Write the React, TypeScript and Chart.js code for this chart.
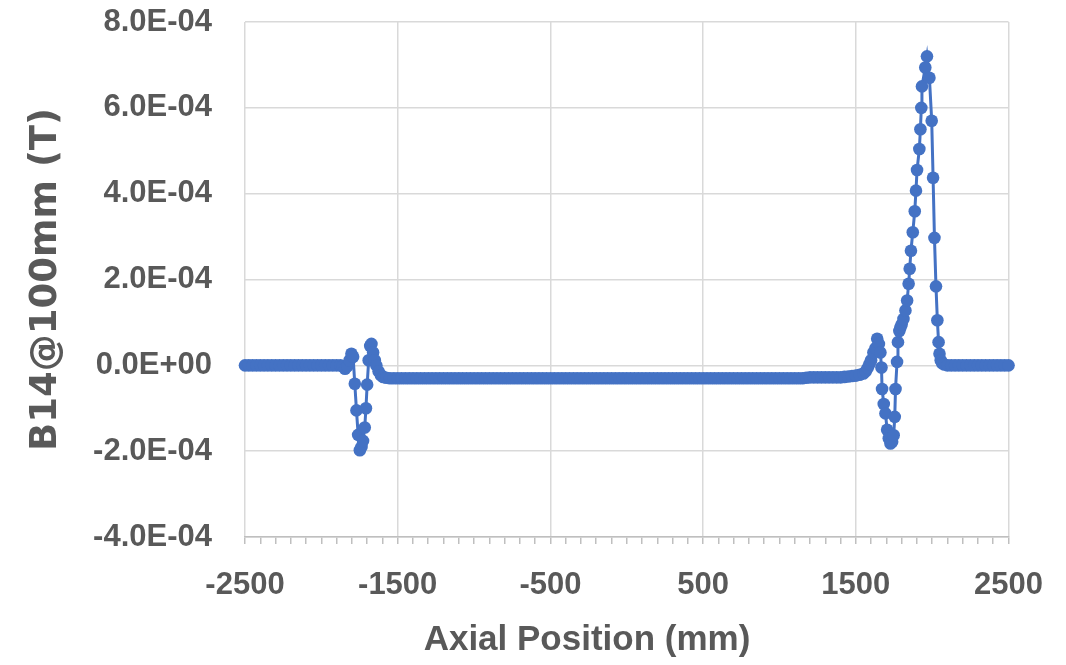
import React, { useEffect, useRef } from "react";
import { Chart, registerables } from "chart.js";

Chart.register(...registerables);

// Axial position (mm)
const leftPlateauMm = [
  -2500, -2475, -2450, -2425, -2400, -2375, -2350, -2325, -2300, -2275,
  -2250, -2225, -2200, -2175, -2150, -2125, -2100, -2075, -2050, -2025,
  -2000, -1975, -1950, -1925, -1900, -1875,
];
// B14 values in units of 1E-4 T
const leftPlateauB = [
  0, 0, 0, 0, 0, 0, 0, 0, 0, 0,
  0, 0, 0, 0, 0, 0, 0, 0, 0, 0,
  0, 0, 0, 0, 0, 0,
];

const leftEndMm = [
  -1860, -1845, -1830, -1815, -1803, -1792, -1781, -1770, -1759, -1748,
  -1737, -1727, -1716, -1708, -1700, -1690, -1680, -1672, -1661, -1650,
  -1640, -1625, -1610, -1595, -1575, -1550,
];
const leftEndB = [
  -0.02, -0.08, -0.02, 0.12, 0.27, 0.20, -0.43, -1.05, -1.62, -1.98,
  -1.90, -1.76, -1.45, -1.0, -0.45, 0.12, 0.45, 0.50, 0.30, 0.12,
  0.0, -0.14, -0.23, -0.27, -0.29, -0.30,
];

const centralMm = [
  -1525, -1500, -1475, -1450, -1425, -1400, -1375, -1350, -1325, -1300,
  -1275, -1250, -1225, -1200, -1175, -1150, -1125, -1100, -1075, -1050,
  -1025, -1000, -975, -950, -925, -900, -875, -850, -825, -800,
  -775, -750, -725, -700, -675, -650, -625, -600, -575, -550,
  -525, -500, -475, -450, -425, -400, -375, -350, -325, -300,
  -275, -250, -225, -200, -175, -150, -125, -100, -75, -50,
  -25, 0, 25, 50, 75, 100, 125, 150, 175, 200,
  225, 250, 275, 300, 325, 350, 375, 400, 425, 450,
  475, 500, 525, 550, 575, 600, 625, 650, 675, 700,
  725, 750, 775, 800, 825, 850, 875, 900, 925, 950,
  975, 1000, 1025, 1050, 1075, 1100, 1125, 1150, 1175, 1200,
  1225, 1250, 1275, 1300, 1325, 1350, 1375, 1400, 1425, 1450,
  1475, 1500, 1525, 1550,
];
const centralB = [
  -0.30, -0.30, -0.30, -0.30, -0.30, -0.30, -0.30, -0.30, -0.30, -0.30,
  -0.30, -0.30, -0.30, -0.30, -0.30, -0.30, -0.30, -0.30, -0.30, -0.30,
  -0.30, -0.30, -0.30, -0.30, -0.30, -0.30, -0.30, -0.30, -0.30, -0.30,
  -0.30, -0.30, -0.30, -0.30, -0.30, -0.30, -0.30, -0.30, -0.30, -0.30,
  -0.30, -0.30, -0.30, -0.30, -0.30, -0.30, -0.30, -0.30, -0.30, -0.30,
  -0.30, -0.30, -0.30, -0.30, -0.30, -0.30, -0.30, -0.30, -0.30, -0.30,
  -0.30, -0.30, -0.30, -0.30, -0.30, -0.30, -0.30, -0.30, -0.30, -0.30,
  -0.30, -0.30, -0.30, -0.30, -0.30, -0.30, -0.30, -0.30, -0.30, -0.30,
  -0.30, -0.30, -0.30, -0.30, -0.30, -0.30, -0.30, -0.30, -0.30, -0.30,
  -0.30, -0.30, -0.30, -0.30, -0.30, -0.30, -0.30, -0.30, -0.30, -0.30,
  -0.30, -0.30, -0.30, -0.30, -0.30, -0.30, -0.30, -0.30, -0.29, -0.28,
  -0.28, -0.28, -0.28, -0.28, -0.28, -0.28, -0.28, -0.28, -0.27, -0.26,
  -0.25, -0.24, -0.22, -0.19,
];

const rightEndMm = [
  1565, 1578, 1590, 1600, 1615, 1629, 1640, 1651, 1661, 1668,
  1672, 1683, 1694, 1705, 1716, 1727, 1738, 1748, 1755, 1760,
  1770, 1776, 1785, 1792, 1800, 1812, 1825, 1836, 1846, 1853,
  1861, 1873, 1886, 1894, 1901, 1916, 1923, 1929, 1933, 1955,
  1966, 1982, 1997, 2006, 2015, 2025, 2034, 2042, 2048, 2056,
  2066, 2080, 2100,
];
const rightEndB = [
  -0.14, -0.06, 0.03, 0.12, 0.30, 0.40, 0.62, 0.50, 0.30, -0.05,
  -0.55, -0.90, -1.12, -1.50, -1.70, -1.82, -1.78, -1.63, -1.20, -0.55,
  0.08, 0.54, 0.80, 0.88, 0.95, 1.08, 1.28, 1.51, 1.90, 2.25,
  2.67, 3.10, 3.59, 4.07, 4.55, 5.04, 5.50, 6.00, 6.50, 6.94,
  7.20, 6.70, 5.70, 4.37, 2.97, 1.84, 1.05, 0.54, 0.27, 0.12,
  0.05, 0.02, 0.0,
];

const rightPlateauMm = [
  2125, 2150, 2175, 2200, 2225, 2250, 2275, 2300, 2325, 2350,
  2375, 2400, 2425, 2450, 2475, 2500,
];
const rightPlateauB = [
  0, 0, 0, 0, 0, 0, 0, 0, 0, 0,
  0, 0, 0, 0, 0, 0,
];

const xTickLabels = ["-2500", "-1500", "-500", "500", "1500", "2500"];
const yTickLabels = ["-4.0E-04", "-2.0E-04", "0.0E+00", "2.0E-04", "4.0E-04", "6.0E-04", "8.0E-04"];
const xTitle = "Axial Position (mm)";
const yTitle = "B14@100mm (T)";

const UNIT = 1e-4; // stored values are in 1E-4 T

const BLUE = "#4472C4";
const TEXT = "#595959";
const GRID = "#d9d9d9";
const FONT = "'Liberation Sans', Arial, sans-serif";

const xTitlePlugin = {
  id: "xTitlePlugin",
  afterDraw(chart: any) {
    const ctx = chart.ctx;
    ctx.save();
    ctx.fillStyle = TEXT;
    ctx.font = `bold 35px ${FONT}`;
    ctx.textAlign = "center";
    ctx.textBaseline = "middle";
    ctx.fillText(xTitle, 587, 640);
    ctx.restore();
  },
};

export default function App() {
  const canvasRef = useRef<HTMLCanvasElement | null>(null);

  useEffect(() => {
    const canvas = canvasRef.current;
    if (!canvas) return;
    const xs = [...leftPlateauMm, ...leftEndMm, ...centralMm, ...rightEndMm, ...rightPlateauMm];
    const ys = [...leftPlateauB, ...leftEndB, ...centralB, ...rightEndB, ...rightPlateauB];
    const points = xs.map((x, i) => ({ x, y: ys[i] * UNIT }));

    const chart = new Chart(canvas, {
      type: "scatter",
      data: {
        datasets: [
          {
            label: "B14@100mm",
            data: points,
            showLine: true,
            borderColor: BLUE,
            borderWidth: 3,
            backgroundColor: BLUE,
            pointBackgroundColor: BLUE,
            pointBorderColor: BLUE,
            pointBorderWidth: 0,
            pointRadius: 6.3,
            clip: false as any,
          },
        ],
      },
      options: {
        animation: false,
        responsive: false,
        devicePixelRatio: 1,
        layout: { padding: { top: 0, right: 56, bottom: 0, left: 0 } },
        plugins: { legend: { display: false }, tooltip: { enabled: false } },
        scales: {
          x: {
            type: "linear",
            min: -2500,
            max: 2500,
            afterFit: (scale: any) => {
              scale.height = 128;
            },
            ticks: {
              stepSize: 100,
              autoSkip: false,
              maxRotation: 0,
              padding: 23,
              color: TEXT,
              font: { family: FONT, size: 31, weight: "bold" },
              callback: (v: any) => {
                const s = String(Math.round(Number(v)));
                return xTickLabels.includes(s) ? s : "";
              },
            },
            grid: {
              color: (ctx: any) => {
                const s = String(Math.round(ctx.tick ? ctx.tick.value : 0));
                return xTickLabels.includes(s) ? GRID : "rgba(0,0,0,0)";
              },
              lineWidth: 1.5,
              tickColor: "#bfbfbf",
              tickLength: 7,
              tickWidth: 1.5,
            },
            border: { display: true, color: "#bfbfbf", width: 1.5 },
            title: { display: false },
          },
          y: {
            type: "linear",
            min: -4e-4,
            max: 8e-4,
            afterFit: (scale: any) => {
              scale.width = 245;
              scale.paddingTop = 22;
              scale.paddingBottom = 0;
            },
            ticks: {
              stepSize: 2e-4,
              padding: 33,
              color: TEXT,
              font: { family: FONT, size: 31, weight: "bold" },
              callback: (_v: any, i: number) => yTickLabels[i] ?? "",
            },
            grid: { color: GRID, lineWidth: 1.5, drawTicks: false },
            border: { display: false },
            title: {
              display: true,
              text: yTitle,
              color: TEXT,
              font: { family: "'DejaVu Sans', sans-serif", size: 37, weight: "bold" },
              padding: { top: 24, bottom: 0 },
            },
          },
        },
      },
      plugins: [xTitlePlugin],
    });
    return () => chart.destroy();
  }, []);

  return (
    <div style={{ position: "absolute", left: 0, top: 0, width: 1066, height: 665, background: "#fff" }}>
      <canvas ref={canvasRef} width={1066} height={665} style={{ display: "block" }} />
    </div>
  );
}
